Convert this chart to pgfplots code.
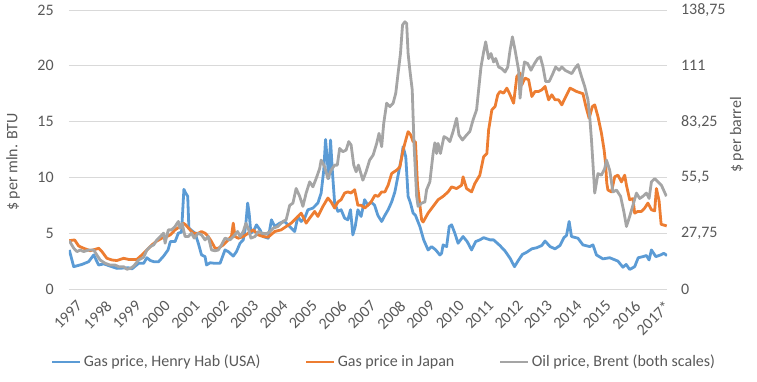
\documentclass[border=0pt]{standalone}
\usepackage{pgfplots}
\pgfplotsset{compat=1.18}
\usepackage{fontspec}
\setmainfont{Carlito}
\definecolor{hh}{HTML}{5B9BD5}
\definecolor{jp}{HTML}{ED7D31}
\definecolor{br}{HTML}{A5A5A5}
\definecolor{gridgray}{HTML}{D9D9D9}
\definecolor{textgray}{HTML}{595959}
\begin{document}
\begin{tikzpicture}[font=\fontsize{12}{14.4}\selectfont]
\path[use as bounding box] (-51.75pt,-69.75pt) rectangle (516pt,216.75pt);
\begin{axis}[
  at={(0pt,0pt)}, anchor=south west,
  scale only axis, width=448.5pt, height=209.25pt,
  xmin=1997, xmax=2017.35, ymin=0, ymax=25,
  ytick={0,5,10,15,20,25}, yticklabels={0,5,10,15,20,25},
  xtick={1997,1998,1999,2000,2001,2002,2003,2004,2005,2006,2007,2008,2009,2010,2011,2012,2013,2014,2015,2016,2017},
  xticklabels={1997,1998,1999,2000,2001,2002,2003,2004,2005,2006,2007,2008,2009,2010,2011,2012,2013,2014,2015,2016,2017*},
  axis line style={draw=none}, major tick length=0pt,
  ymajorgrids, grid style={color=gridgray, line width=0.75pt},
  tick label style={text=textgray},
  yticklabel style={xshift=-8pt},
  xticklabel style={xshift=5pt, yshift=-3pt, rotate=45, anchor=north east},
  ylabel={\$ per mln. BTU},
  ylabel style={at={(rel axis cs:-0.0936,0.455)}, anchor=center, text=textgray},
  legend style={at={(0.5268,-0.262)}, anchor=center, draw=none, fill=none,
    text=textgray, legend columns=3,
    /tikz/every even column/.append style={column sep=32pt},
    nodes={inner xsep=1.5pt}},
  legend image code/.code={\draw[#1, line width=2.1pt] (0pt,0pt) -- (21pt,0pt);},
  every axis plot/.append style={line width=2.1pt, line join=round, mark=none},
]
\addplot[hh] coordinates {(1997.01,3.5)(1997.16,2.0)(1997.44,2.2)(1997.67,2.45)(1997.84,3.05)(1998.01,2.15)(1998.18,2.25)(1998.46,2.0)(1998.63,1.85)(1999.03,1.9)(1999.14,1.8)(1999.37,2.3)(1999.54,2.3)(1999.65,2.8)(1999.77,2.55)(1999.88,2.45)(2000.05,2.45)(2000.22,2.95)(2000.37,3.5)(2000.45,4.25)(2000.61,4.25)(2000.72,5.0)(2000.83,5.1)(2000.91,8.93)(2000.97,8.6)(2001.04,8.3)(2001.08,5.45)(2001.29,5.0)(2001.40,4.1)(2001.51,3.05)(2001.63,2.9)(2001.68,2.15)(2001.80,2.35)(2001.97,2.3)(2002.14,2.3)(2002.31,3.5)(2002.42,3.35)(2002.59,2.95)(2002.70,3.35)(2002.82,4.1)(2002.93,4.4)(2003.01,5.6)(2003.08,7.7)(2003.13,6.8)(2003.19,5.0)(2003.30,5.3)(2003.38,5.75)(2003.50,5.3)(2003.61,4.7)(2003.78,4.55)(2003.89,6.2)(2004.00,5.6)(2004.17,5.9)(2004.34,6.05)(2004.51,5.6)(2004.68,5.15)(2004.79,6.5)(2004.90,6.05)(2005.02,6.35)(2005.13,7.1)(2005.30,7.25)(2005.47,7.7)(2005.58,8.6)(2005.67,10.65)(2005.73,13.4)(2005.79,11.55)(2005.84,9.9)(2005.90,13.35)(2005.96,10.65)(2006.04,7.7)(2006.15,6.95)(2006.26,7.1)(2006.38,6.35)(2006.49,6.2)(2006.58,7.1)(2006.66,4.85)(2006.74,5.6)(2006.83,7.1)(2006.94,6.5)(2007.06,8.0)(2007.17,7.5)(2007.28,7.8)(2007.40,7.5)(2007.51,6.6)(2007.64,6.05)(2007.75,6.6)(2007.86,7.1)(2007.98,7.8)(2008.09,8.7)(2008.20,10.2)(2008.32,11.85)(2008.37,12.75)(2008.46,11.85)(2008.54,8.3)(2008.62,7.7)(2008.71,6.8)(2008.79,6.6)(2008.94,5.6)(2009.07,4.4)(2009.22,3.5)(2009.34,3.8)(2009.48,3.5)(2009.62,3.05)(2009.68,3.2)(2009.73,3.95)(2009.85,3.8)(2009.94,5.6)(2010.02,5.75)(2010.13,5.0)(2010.24,4.1)(2010.41,4.7)(2010.55,4.25)(2010.70,3.5)(2010.84,4.25)(2010.98,4.4)(2011.11,4.6)(2011.33,4.4)(2011.45,4.4)(2011.66,3.9)(2011.84,3.4)(2012.01,2.75)(2012.16,2.0)(2012.30,2.6)(2012.43,3.1)(2012.58,3.3)(2012.75,3.6)(2012.92,3.7)(2013.09,3.9)(2013.20,4.3)(2013.37,3.8)(2013.54,3.6)(2013.71,3.9)(2013.84,4.6)(2013.93,4.8)(2014.02,6.05)(2014.10,4.7)(2014.32,4.55)(2014.49,3.95)(2014.72,3.8)(2014.83,3.95)(2014.95,3.05)(2015.17,2.7)(2015.40,2.8)(2015.68,2.5)(2015.85,1.95)(2015.96,2.2)(2016.08,1.75)(2016.25,2.0)(2016.37,2.8)(2016.53,2.9)(2016.65,3.0)(2016.74,2.6)(2016.82,3.5)(2016.97,2.9)(2017.13,3.05)(2017.24,3.2)(2017.35,3.0)};
\addlegendentry{Gas price, Henry Hab (USA)}
\addplot[jp] coordinates {(1997.01,4.33)(1997.19,4.4)(1997.33,3.85)(1997.50,3.65)(1997.72,3.43)(1997.89,3.55)(1998.01,3.65)(1998.12,3.35)(1998.29,2.75)(1998.46,2.6)(1998.63,2.55)(1998.86,2.75)(1999.03,2.65)(1999.31,2.65)(1999.48,3.05)(1999.65,3.5)(1999.82,3.95)(1999.99,4.3)(2000.16,4.55)(2000.33,4.7)(2000.45,4.85)(2000.61,5.3)(2000.78,5.6)(2000.89,5.9)(2000.97,5.75)(2001.12,5.3)(2001.23,5.0)(2001.40,5.0)(2001.51,5.15)(2001.63,5.0)(2001.74,4.7)(2001.85,4.25)(2001.97,3.65)(2002.08,3.65)(2002.25,3.95)(2002.42,4.4)(2002.53,4.75)(2002.59,5.9)(2002.65,4.7)(2002.76,4.55)(2002.93,4.7)(2003.10,5.0)(2003.27,5.3)(2003.44,4.85)(2003.61,4.7)(2003.78,4.65)(2004.00,5.15)(2004.22,5.3)(2004.39,5.6)(2004.56,5.9)(2004.73,6.35)(2004.90,6.8)(2005.07,5.9)(2005.19,6.35)(2005.36,6.95)(2005.47,6.5)(2005.64,7.4)(2005.81,8.15)(2005.92,7.8)(2006.04,7.25)(2006.15,7.8)(2006.26,8.0)(2006.38,8.6)(2006.49,8.7)(2006.60,8.6)(2006.72,8.9)(2006.83,7.5)(2006.94,7.5)(2007.06,7.25)(2007.17,7.5)(2007.28,7.8)(2007.41,8.4)(2007.52,8.3)(2007.64,8.7)(2007.75,8.7)(2007.86,9.3)(2007.98,10.35)(2008.15,10.65)(2008.26,10.95)(2008.37,12.45)(2008.46,13.35)(2008.54,14.1)(2008.63,13.8)(2008.71,13.2)(2008.79,13.2)(2008.86,9.3)(2009.00,6.2)(2009.05,6.0)(2009.22,6.8)(2009.39,7.4)(2009.56,8.0)(2009.73,8.3)(2009.90,8.7)(2010.02,9.15)(2010.19,9.0)(2010.36,9.3)(2010.41,10.05)(2010.53,9.0)(2010.70,8.7)(2010.81,9.45)(2010.98,10.2)(2011.11,11.85)(2011.22,12.15)(2011.28,14.25)(2011.39,16.05)(2011.50,16.35)(2011.59,17.4)(2011.67,17.7)(2011.79,17.55)(2011.90,18.0)(2012.01,17.4)(2012.13,16.65)(2012.24,19.05)(2012.35,19.35)(2012.41,18.3)(2012.52,18.9)(2012.64,18.75)(2012.75,17.25)(2012.86,17.7)(2012.98,17.7)(2013.09,17.85)(2013.20,18.15)(2013.32,16.95)(2013.43,17.4)(2013.54,16.95)(2013.66,16.95)(2013.77,16.5)(2013.88,17.1)(2014.05,18.0)(2014.27,17.7)(2014.49,17.5)(2014.59,16.35)(2014.70,15.3)(2014.81,16.35)(2014.89,16.5)(2015.00,15.45)(2015.12,13.95)(2015.21,12.45)(2015.26,11.25)(2015.30,9.5)(2015.34,8.87)(2015.46,8.7)(2015.57,10.05)(2015.68,10.2)(2015.80,9.6)(2015.91,10.2)(2015.97,9.3)(2016.08,8.0)(2016.19,8.1)(2016.25,6.8)(2016.36,6.95)(2016.48,6.95)(2016.59,7.25)(2016.70,7.7)(2016.82,7.1)(2016.93,7.0)(2016.99,9.0)(2017.08,7.9)(2017.15,5.8)(2017.34,5.65)};
\addlegendentry{Gas price in Japan}
\addlegendimage{br, line width=2.1pt}
\addlegendentry{Oil price, Brent (both scales)}
\end{axis}
\begin{axis}[
  at={(0pt,0pt)}, anchor=south west,
  scale only axis, width=448.5pt, height=209.25pt,
  xmin=1997, xmax=2017.35, ymin=0, ymax=138.75,
  axis x line=none, axis y line*=right,
  axis line style={draw=none}, major tick length=0pt,
  ytick={0,27.75,55.5,83.25,111,138.75},
  yticklabels={0,{27,75},{55,5},{83,25},111,{138,75}},
  tick label style={text=textgray},
  yticklabel style={xshift=7pt},
  ylabel={\$ per barrel},
  ylabel style={at={(rel axis cs:1.117,0.552)}, anchor=center, text=textgray},
  every axis plot/.append style={line width=2.1pt, line join=round, mark=none},
]
\addplot[br] coordinates {(1997.01,24.0)(1997.16,20.3)(1997.27,18.6)(1997.38,19.4)(1997.50,18.6)(1997.67,19.4)(1997.84,19.4)(1997.95,16.9)(1998.06,14.4)(1998.23,12.8)(1998.40,11.9)(1998.57,11.9)(1998.69,11.1)(1998.86,11.1)(1998.97,9.8)(1999.09,10.3)(1999.20,11.4)(1999.37,14.4)(1999.54,15.8)(1999.65,19.4)(1999.77,21.1)(1999.88,21.9)(1999.99,24.4)(2000.11,26.1)(2000.22,27.8)(2000.27,22.8)(2000.38,29.4)(2000.49,29.4)(2000.61,31.1)(2000.72,33.6)(2000.78,30.2)(2000.85,32.7)(2000.95,26.1)(2001.06,26.1)(2001.17,27.8)(2001.26,25.3)(2001.40,27.8)(2001.51,26.9)(2001.63,24.4)(2001.74,26.1)(2001.85,19.4)(2001.97,19.0)(2002.08,19.4)(2002.19,21.9)(2002.31,25.3)(2002.48,24.4)(2002.59,26.1)(2002.74,28.6)(2002.82,26.1)(2002.93,28.6)(2003.02,32.7)(2003.10,30.2)(2003.19,25.3)(2003.33,26.1)(2003.44,28.6)(2003.55,27.8)(2003.72,27.5)(2003.84,28.6)(2003.95,30.2)(2004.11,31.1)(2004.28,33.6)(2004.39,34.4)(2004.51,41.6)(2004.62,42.7)(2004.73,50.0)(2004.85,46.1)(2004.96,41.1)(2005.07,47.7)(2005.19,53.3)(2005.30,50.8)(2005.41,54.9)(2005.53,59.9)(2005.58,64.1)(2005.70,60.8)(2005.81,54.9)(2005.92,59.1)(2006.04,61.6)(2006.13,61.6)(2006.21,69.9)(2006.32,68.3)(2006.43,69.1)(2006.52,73.3)(2006.60,71.6)(2006.69,61.6)(2006.77,58.3)(2006.85,61.6)(2007.00,54.1)(2007.11,58.3)(2007.23,64.1)(2007.35,66.6)(2007.47,72.4)(2007.55,77.4)(2007.64,70.8)(2007.71,82.4)(2007.81,92.4)(2007.92,90.7)(2008.03,92.4)(2008.12,97.4)(2008.20,107.4)(2008.28,117.1)(2008.35,131.3)(2008.43,132.9)(2008.49,132.1)(2008.54,117.1)(2008.60,108.8)(2008.68,99.1)(2008.74,72.4)(2008.83,46.1)(2008.88,41.1)(2009.00,42.7)(2009.11,43.3)(2009.17,49.4)(2009.28,53.3)(2009.39,67.4)(2009.45,72.7)(2009.51,67.4)(2009.56,72.4)(2009.64,67.4)(2009.76,75.8)(2009.87,74.9)(2009.96,73.3)(2010.07,78.3)(2010.19,84.9)(2010.27,76.6)(2010.39,74.1)(2010.53,76.6)(2010.64,78.3)(2010.75,84.1)(2010.87,89.1)(2010.94,99.1)(2011.02,110.4)(2011.11,117.9)(2011.18,122.9)(2011.28,114.6)(2011.36,117.1)(2011.45,112.9)(2011.52,114.6)(2011.62,110.4)(2011.73,109.6)(2011.84,107.9)(2011.93,110.4)(2012.01,118.8)(2012.09,125.4)(2012.18,118.8)(2012.30,108.8)(2012.35,94.9)(2012.41,104.1)(2012.50,112.9)(2012.61,112.1)(2012.72,108.8)(2012.84,112.1)(2012.95,114.6)(2013.04,115.4)(2013.13,110.4)(2013.22,103.2)(2013.34,103.2)(2013.45,106.6)(2013.56,110.4)(2013.68,108.8)(2013.77,110.4)(2013.88,108.8)(2014.00,107.9)(2014.11,107.1)(2014.21,109.6)(2014.32,111.6)(2014.44,105.7)(2014.55,100.7)(2014.66,94.1)(2014.72,85.7)(2014.78,74.1)(2014.83,62.4)(2014.89,47.7)(2015.00,57.4)(2015.12,56.6)(2015.23,59.9)(2015.29,64.1)(2015.40,59.1)(2015.51,48.3)(2015.63,49.2)(2015.77,46.1)(2015.88,38.6)(2015.97,31.1)(2016.08,36.1)(2016.19,41.6)(2016.31,47.7)(2016.42,45.0)(2016.53,46.1)(2016.65,47.7)(2016.74,45.0)(2016.82,53.3)(2016.93,54.9)(2017.04,53.3)(2017.16,51.6)(2017.33,46.1)};
\end{axis}
\end{tikzpicture}
\end{document}
